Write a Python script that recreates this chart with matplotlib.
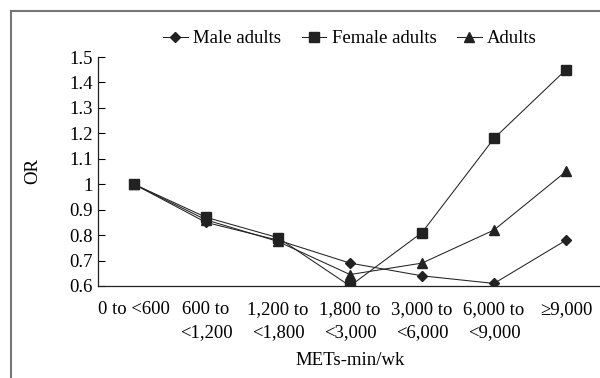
import matplotlib
matplotlib.use('Agg')
import matplotlib.pyplot as plt
from matplotlib.lines import Line2D

plt.rcParams['font.family'] = ['Liberation Serif', 'DejaVu Serif']

# Данные.
categories = ['0 to <600', '600 to\n<1,200', '1,200 to\n<1,800', '1,800 to\n<3,000',
              '3,000 to\n<6,000', '6,000 to\n<9,000', '\u22659,000']
male = [1.0, 0.85, 0.78, 0.69, 0.64, 0.61, 0.78]
female = [1.0, 0.87, 0.79, 0.60, 0.81, 1.18, 1.45]
adults = [1.0, 0.86, 0.775, 0.645, 0.69, 0.82, 1.05]
y_ticks = [0.6, 0.7, 0.8, 0.9, 1.0, 1.1, 1.2, 1.3, 1.4, 1.5]
y_labels = ['0.6', '0.7', '0.8', '0.9', '1', '1.1', '1.2', '1.3', '1.4', '1.5']

fs = 13.5
fig = plt.figure(figsize=(6, 3.78), dpi=100)
ax = fig.add_axes([98 / 600, 1 - 286 / 378, 504 / 600, 229 / 378])

x = list(range(len(categories)))
ax.plot(x, male, color='#222222', lw=0.75, marker='D', ms=5.5, label='Male adults')
ax.plot(x, female, color='#222222', lw=0.75, marker='s', ms=7, label='Female adults')
ax.plot(x, adults, color='#222222', lw=0.75, marker='^', ms=7, label='Adults')

ax.set_xlim(-0.5, 6.5)
ax.set_ylim(0.6, 1.5)
ax.set_xticks(x)
ax.set_xticklabels(categories, fontsize=fs, linespacing=1.45)
ax.set_yticks(y_ticks)
ax.set_yticklabels(y_labels, fontsize=fs)
ax.tick_params(axis='x', length=0, pad=11)
ax.tick_params(axis='y', direction='in', length=5, width=0.8, pad=4)
for s in ['top', 'right']:
    ax.spines[s].set_visible(False)
for s in ['left', 'bottom']:
    ax.spines[s].set_linewidth(0.9)
    ax.spines[s].set_color('#222222')

ax.set_xlabel('METs-min/wk', fontsize=fs, labelpad=8)
ax.set_ylabel('OR', fontsize=fs, labelpad=20)

ax.legend(loc='center', bbox_to_anchor=(0.5, 1.08), ncol=3, frameon=False,
          fontsize=fs, handlelength=1.3, handletextpad=0.3, columnspacing=1.1)

# Рамка вокруг рисунка (обрезанная справа и снизу).
fig.add_artist(Line2D([11 / 600, 11 / 600], [0, 1 - 11 / 378], color='#777777', lw=1.5,
                      transform=fig.transFigure))
fig.add_artist(Line2D([11 / 600, 1], [1 - 11 / 378, 1 - 11 / 378], color='#777777', lw=1.5,
                      transform=fig.transFigure))

fig.savefig('out.png', dpi=100)
